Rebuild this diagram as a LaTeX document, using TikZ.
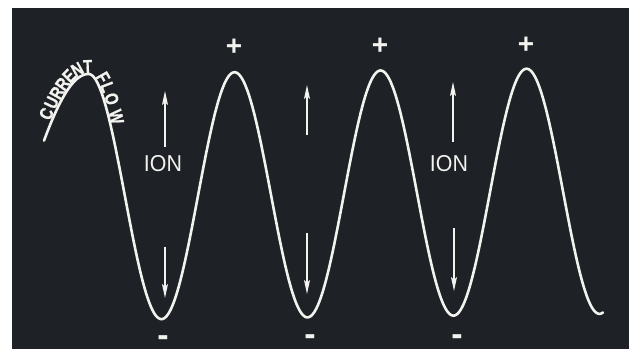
\documentclass[tikz,border=0pt]{standalone}
\usepackage{fontspec}
\setmainfont{Liberation Sans}
\newfontfamily\heavyfont{Liberation Sans}[FakeStretch=0.8,FakeBold=1]
\usetikzlibrary{arrows.meta}
\definecolor{bgcol}{RGB}{30,33,38}
\definecolor{wavecol}{RGB}{242,242,238}
\begin{document}
\begin{tikzpicture}[x=1pt,y=-1pt,
  declare function={
    wy(\t)=197-0.012*(\t-88.5)-123*cos(2.46575*(\t-88.5));
    wl(\t)=197-123*cos(1.41*(\t-88.5));
  },
  wave/.style={draw=wavecol, line width=2.6pt, line cap=round, line join=round},
  ionarrow/.style={draw=wavecol, line width=1.4pt, -{Stealth[length=14pt,width=6pt,inset=3pt]}},
  ionlbl/.style={text=wavecol, inner sep=0pt, font=\fontsize{23}{23}\selectfont, xscale=0.93},
  pluslbl/.style={text=wavecol, inner sep=0pt, font=\bfseries\fontsize{28}{28}\selectfont},
  minuslbl/.style={text=wavecol, inner sep=0pt, anchor=base, font=\bfseries\fontsize{34}{34}\selectfont},
  cflbl/.style={text=wavecol, inner xsep=0pt, inner ysep=1.0pt, anchor=south,
    font=\heavyfont\bfseries\fontsize{18.5}{18.5}\selectfont},
]
\useasboundingbox (0,0) rectangle (629,359);
\fill[white] (0,0) rectangle (629,359);
\fill[bgcol] (12,8) rectangle (629,349);

% wave
\draw[wave] plot[domain=44:88.5, samples=40] (\x,{wl(\x)})
  -- plot[domain=88.5:603, samples=500] (\x,{wy(\x)});

% curved label CURRENT FLOW, letter by letter along the first hump
\foreach \ch/\t [count=\i] in {C/53.5,U/58.5,R/63.5,R/68.7,E/74.5,N/81,T/88,F/96.5,L/100.5,O/104.3,W/109} {
  \pgfmathsetmacro\yy{\t<88.5 ? wl(\t) : wy(\t)}
  \pgfmathsetmacro\ss{\t<88.5 ? 3.027*sin(1.41*(\t-88.5)) : -0.012+5.293*sin(2.46575*(\t-88.5))}
  \pgfmathsetmacro\ang{atan2(-\ss,1)}
  \node[cflbl, rotate=\ang] (cf\i) at (\t,\yy) {\ch};
}

% plus and minus
\node[pluslbl] (p1) at (234,47) {+};
\node[pluslbl] (p2) at (380,46) {+};
\node[pluslbl] (p3) at (526,45) {+};
\node[minuslbl] (m1) at (163,346) {-};
\node[minuslbl] (m2) at (310,345) {-};
\node[minuslbl] (m3) at (457,345) {-};

% ION labels
\node[ionlbl] (ion1) at (163,164) {ION};
\node[ionlbl] (ion2) at (449,164) {ION};

% arrows
\coordinate (u1a) at (165,147); \coordinate (u1b) at (165,91);
\coordinate (d1a) at (165,247); \coordinate (d1b) at (165,298);
\coordinate (u2a) at (307,135); \coordinate (u2b) at (307,85);
\coordinate (d2a) at (307,233); \coordinate (d2b) at (307,294);
\coordinate (u3a) at (453,142); \coordinate (u3b) at (453,82);
\coordinate (d3a) at (454,228); \coordinate (d3b) at (454,291);
\draw[ionarrow] (u1a) -- (u1b);
\draw[ionarrow] (d1a) -- (d1b);
\draw[ionarrow] (u2a) -- (u2b);
\draw[ionarrow] (d2a) -- (d2b);
\draw[ionarrow] (u3a) -- (u3b);
\draw[ionarrow] (d3a) -- (d3b);
\end{tikzpicture}
\end{document}
